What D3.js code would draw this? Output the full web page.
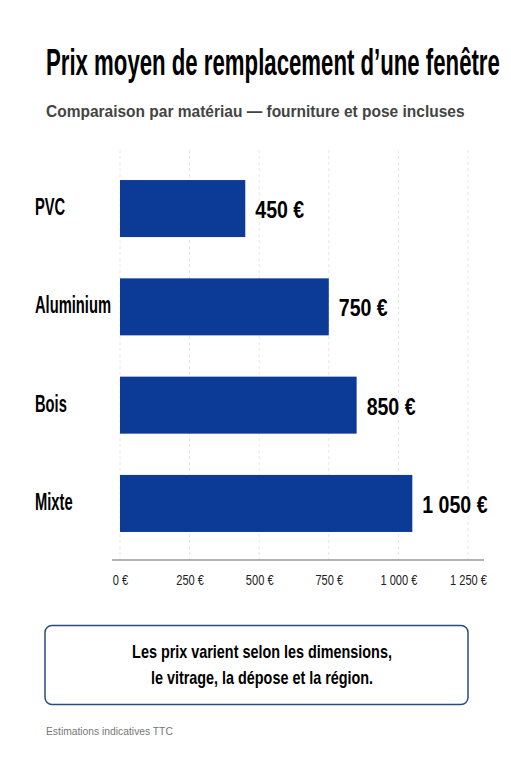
<!DOCTYPE html>
<html><head><meta charset="utf-8">
<script src="https://cdn.jsdelivr.net/npm/d3@7"></script>
<style>
html,body{margin:0;padding:0;background:#fff;}
svg{display:block;}
</style></head>
<body>
<svg id="c" width="511" height="768"></svg>
<script>
const categories = ["PVC", "Aluminium", "Bois", "Mixte"];
const values = [450, 750, 850, 1050];
const valueLabels = ["450 €", "750 €", "850 €", "1 050 €"];
const tickValues = [0, 250, 500, 750, 1000, 1250];
const tickLabels = ["0 €", "250 €", "500 €", "750 €", "1 000 €", "1 250 €"];
const title = "Prix moyen de remplacement d\u2019une fenêtre";
const subtitle = "Comparaison par matériau — fourniture et pose incluses";
const noteLines = ["Les prix varient selon les dimensions,", "le vitrage, la dépose et la région."];
const footnote = "Estimations indicatives TTC";

const F = "'Liberation Sans', Arial, sans-serif";
const svg = d3.select("#c");

// condense text horizontally (mimics a condensed typeface)
function condense(sel, k) {
  sel.each(function () {
    const t = d3.select(this);
    const tx = +t.attr("x") || 0, ty = +t.attr("y") || 0;
    t.attr("x", 0).attr("y", 0).attr("transform", `translate(${tx},${ty}) scale(${k},1)`);
  });
}

const x = d3.scaleLinear().domain([0, 1250]).range([120, 468]);
const y = d3.scaleBand().domain(categories).range([159.4, 552.6]).paddingInner(0.42).paddingOuter(0.21);

svg.append("text").attr("x", 46).attr("y", 75).attr("font-family", F).attr("font-weight", 700)
  .attr("font-size", 37).attr("fill", "#000").text(title).call(condense, 0.6);
svg.append("text").attr("x", 46).attr("y", 117).attr("font-family", F).attr("font-weight", 700)
  .attr("font-size", 16.5).attr("fill", "#444").text(subtitle).call(condense, 0.94);

// grid
svg.append("g").selectAll("line").data(tickValues).join("line")
  .attr("x1", d => x(d)).attr("x2", d => x(d)).attr("y1", 150).attr("y2", 560)
  .attr("stroke", "#e6e6e6").attr("stroke-width", 1).attr("stroke-dasharray", "3,3");

// bars
svg.append("g").selectAll("rect").data(values).join("rect")
  .attr("x", x(0)).attr("y", (d, i) => y(categories[i]))
  .attr("width", d => x(d) - x(0)).attr("height", y.bandwidth())
  .attr("fill", "#0b3b96");

// category labels
svg.append("g").selectAll("text").data(categories).join("text")
  .attr("x", 35).attr("y", d => y(d) + y.bandwidth() / 2 + 6.5)
  .attr("font-family", F).attr("font-weight", 700).attr("font-size", 23).attr("fill", "#000").text(d => d)
  .call(condense, 0.64);

// value labels
svg.append("g").selectAll("text").data(values).join("text")
  .attr("x", d => x(d) + 10).attr("y", (d, i) => y(categories[i]) + y.bandwidth() / 2 + 9.5)
  .attr("font-family", F).attr("font-weight", 700).attr("font-size", 23).attr("fill", "#000").text((d, i) => valueLabels[i])
  .call(condense, 0.85);

// axis
const ax = svg.append("g").attr("transform", "translate(0,560)")
  .call(d3.axisBottom(x).tickValues(tickValues).tickFormat((d, i) => tickLabels[i]).tickSize(0));
ax.select(".domain").remove();
ax.append("line").attr("x1", 112).attr("x2", 484).attr("y1", 0).attr("y2", 0).attr("stroke", "#9a9a9a").attr("stroke-width", 1.5);
ax.selectAll(".tick text").attr("x", 0).attr("y", 24.5).attr("dy", 0).attr("font-family", F).attr("font-size", 15).attr("fill", "#222")
  .call(condense, 0.74);

// note box
svg.append("rect").attr("x", 45).attr("y", 625.5).attr("width", 423).attr("height", 79).attr("rx", 7)
  .attr("fill", "#fff").attr("stroke", "#2b4a86").attr("stroke-width", 1.5);
svg.append("g").selectAll("text").data(noteLines).join("text")
  .attr("x", 262).attr("y", (d, i) => 658 + i * 25.5).attr("text-anchor", "middle")
  .attr("font-family", F).attr("font-weight", 700).attr("font-size", 18).attr("fill", "#000").text(d => d)
  .call(condense, 0.8);

svg.append("text").attr("x", 46).attr("y", 735).attr("font-family", F)
  .attr("font-size", 10.3).attr("fill", "#777").text(footnote);
</script>
</body></html>
